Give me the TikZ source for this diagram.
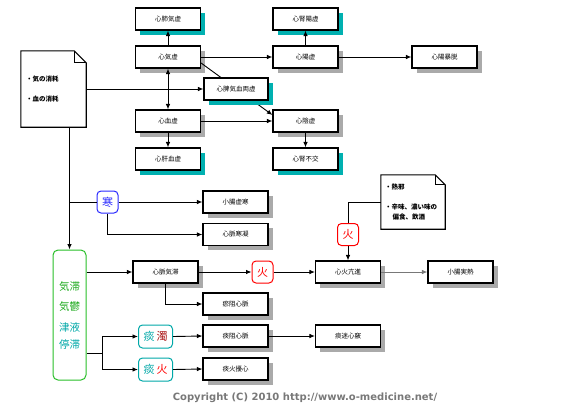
\documentclass[tikz,border=0pt]{standalone}
\usepackage{fontspec}
\newfontfamily\jp{Noto Sans CJK JP}
\newfontfamily\cpfont{DejaVu Sans}
\usetikzlibrary{shadows,calc,arrows.meta}
\definecolor{shgray}{RGB}{170,170,170}
\definecolor{shteal}{RGB}{0,176,176}
\definecolor{tealtxt}{RGB}{0,168,168}
\definecolor{greenbd}{RGB}{40,190,40}
\definecolor{greentxt}{RGB}{30,170,30}
\definecolor{darkred}{RGB}{170,20,20}
\definecolor{cpgray}{RGB}{120,120,120}
\definecolor{kanblue}{RGB}{40,40,255}
\tikzset{
  box/.style={draw, line width=1.1pt, fill=white, minimum width=65pt, minimum height=22pt,
    inner sep=0pt, font=\jp\fontsize{6.5}{7}\selectfont},
  gbox/.style={box, drop shadow={shadow xshift=4.5pt, shadow yshift=-4.5pt, fill=shgray, opacity=1}},
  tbox/.style={box, drop shadow={shadow xshift=4.5pt, shadow yshift=-4.5pt, fill=shteal, opacity=1}},
  tag/.style={draw, line width=1pt, rounded corners=4pt, fill=white, minimum width=21pt,
    minimum height=22pt, inner sep=0pt, font=\jp\fontsize{11}{12}\selectfont},
  arr/.style={line width=0.9pt, -{Latex[length=5.5pt,width=4.5pt]}},
  darr/.style={line width=0.9pt, {Latex[length=5.5pt,width=4.5pt]}-{Latex[length=5.5pt,width=4.5pt]}},
  ln/.style={line width=0.9pt},
  doctxt/.style={anchor=west, inner sep=0pt, font=\jp\bfseries\fontsize{6.5}{7}\selectfont},
  gtxt/.style={inner sep=0pt, font=\jp\fontsize{10.5}{11}\selectfont},
}
\begin{document}
\begin{tikzpicture}[x=1pt,y=-1pt]
\useasboundingbox (0,0) rectangle (580,410);
% upper boxes
\node[tbox] (n1) at (168,19) {心肺気虚};
\node[gbox] (n2) at (168,57) {心気虚};
\node[gbox] (n4) at (168,121) {心血虚};
\node[tbox] (n5) at (168,159) {心肝血虚};
\node[tbox] (n6) at (305.5,19) {心腎陽虚};
\node[gbox] (n7) at (305.5,57) {心陽虚};
\node[gbox] (n8) at (444.5,57) {心陽暴脱};
\node[gbox] (n9) at (305.5,121) {心陰虚};
\node[tbox] (n10) at (305.5,159) {心腎不交};
% diagonal line passing behind n3
\draw[arr] ($(n2.east)+(0,6)$) -- ($(n9.west)+(0,-6)$);
\node[tbox, minimum width=64pt] (n3) at (236,89) {心脾気血両虚};
% document 1
\node[minimum width=65pt, minimum height=76pt, inner sep=0pt] (doc1) at (53.5,89) {};
\draw[line width=1.1pt, fill=white] (doc1.north west) -- ($(doc1.north east)+(-12,0)$)
  -- ($(doc1.north east)+(0,12)$) -- (doc1.south east) -- (doc1.south west) -- cycle;
\draw[line width=0.8pt] ($(doc1.north east)+(-12,0)$) -- ($(doc1.north east)+(-12,12)$) -- ($(doc1.north east)+(0,12)$);
\node[doctxt] (d1a) at (26,79) {・気の消耗};
\node[doctxt] (d1b) at (26,99) {・血の消耗};
% upper connectors
\draw[arr] (n2.north) -- (n1.south);
\draw[darr] (n2.south) -- (n4.north);
\draw[arr] (n4.south) -- (n5.north);
\draw[arr] (n2.east) -- (n7.west);
\draw[arr] (n4.east) -- (n9.west);
\draw[arr] (n7.north) -- (n6.south);
\draw[arr] (n7.east) -- (n8.west);
\draw[arr] (n9.south) -- (n10.north);
\draw[arr] (doc1.east) -- (n3.west);
% green box
\node[draw=greenbd, line width=1pt, rounded corners=5pt, minimum width=33pt, minimum height=130pt,
  inner sep=0pt] (grn) at (69.5,315) {};
\node[gtxt, text=greentxt] (g1) at (69.5,287) {気滞};
\node[gtxt, text=greentxt] (g2) at (69.5,307) {気鬱};
\node[gtxt, text=tealtxt] (g3) at (69.5,327.5) {津液};
\node[gtxt, text=tealtxt] (g4) at (69.5,344.5) {停滞};
\draw[arr] (doc1.south -| grn.north) -- (grn.north);
% cold branch
\node[tag, draw=kanblue, text=kanblue] (kan) at (107.5,202) {寒};
\node[gbox] (b11) at (235.5,202) {小腸虚寒};
\node[gbox] (b12) at (235.5,234.5) {心脈寒凝};
\coordinate (j1) at (grn.north |- kan.west);
\draw[ln] (j1) -- (kan.west);
\draw[arr] (kan.east) -- (b11.west);
\draw[arr] (kan.south) |- (b12.west);
% qi stagnation branch
\node[gbox] (mq) at (165.5,272) {心脈気滞};
\node[gbox] (oso) at (235.5,304) {瘀阻心脈};
\node[tag, draw=red, text=red] (hi1) at (262.5,272) {火};
\node[gbox] (shinka) at (348,272) {心火亢進};
\node[gbox] (shochou) at (460.5,272) {小腸実熱};
\node[tag, draw=red, text=red] (hi2) at (348,234.5) {火};
\draw[arr] (grn.east |- mq.west) -- (mq.west);
\draw[arr] (mq.east) -- (hi1.west);
\draw[arr] (hi1.east) -- (shinka.west);
\draw[line width=0.9pt, draw=cpgray, -{Latex[length=5.5pt,width=4.5pt]}] (shinka.east) -- (shochou.west);
\draw[arr] (mq.south) |- (oso.west);
% document 2
\node[minimum width=64pt, minimum height=54pt, inner sep=0pt] (doc2) at (413,202) {};
\draw[line width=1.1pt, fill=white] (doc2.north west) -- ($(doc2.north east)+(-10,0)$)
  -- ($(doc2.north east)+(0,10)$) -- (doc2.south east) -- (doc2.south west) -- cycle;
\draw[line width=0.8pt] ($(doc2.north east)+(-10,0)$) -- ($(doc2.north east)+(-10,10)$) -- ($(doc2.north east)+(0,10)$);
\node[doctxt] (d2a) at (385,187) {・熱邪};
\node[doctxt] (d2b) at (385,207) {・辛味、濃い味の};
\node[doctxt] (d2c) at (392.5,217) {偏食、飲酒};
\draw[ln] (doc2.west) -| (hi2.north);
\draw[arr] (hi2.south) -- (shinka.north);
% phlegm branch
\node[tag, draw=tealtxt, minimum width=34pt, minimum height=23pt] (tdk) at (155.5,336.5)
  {\textcolor{tealtxt}{痰}\hspace{2pt}\textcolor{darkred}{濁}};
\node[tag, draw=tealtxt, minimum width=34pt, minimum height=23pt] (tka) at (155.5,369.5)
  {\textcolor{tealtxt}{痰}\hspace{2pt}\textcolor{red}{火}};
\node[gbox] (tso) at (235.5,336) {痰阻心脈};
\node[gbox] (tkj) at (235.5,369) {痰火擾心};
\node[gbox] (tms) at (348,336) {痰迷心竅};
\coordinate (j2) at (102,353);
\draw[ln] (grn.east |- j2) -- (j2);
\draw[arr] (j2) |- (tdk.west);
\draw[arr] (j2) |- (tka.west);
\draw[arr] (tdk.east) -- (tso.west);
\draw[arr] (tka.east) -- (tkj.west);
\draw[arr] (tso.east) -- (tms.west);
% copyright
\node[font=\cpfont\bfseries\fontsize{10}{11}\selectfont, text=cpgray, inner sep=0pt] (copy) at (305,398)
  {Copyright (C) 2010 http://www.o-medicine.net/};
\end{tikzpicture}
\end{document}
